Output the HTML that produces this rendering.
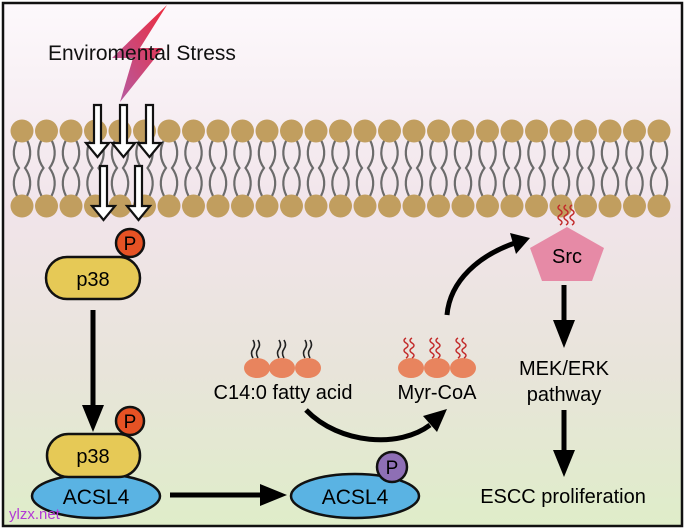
<!DOCTYPE html>
<html><head><meta charset="utf-8"><style>
html,body{margin:0;padding:0;}
body{width:685px;height:530px;overflow:hidden;}
svg{display:block;font-family:"Liberation Sans",Arial,sans-serif;}
</style></head><body>
<svg width="685" height="530" viewBox="0 0 685 530" xmlns="http://www.w3.org/2000/svg" xmlns:xlink="http://www.w3.org/1999/xlink">
<defs>
<linearGradient id="bg" x1="0" y1="0" x2="0" y2="1">
<stop offset="0" stop-color="#fdf9fc"/>
<stop offset="0.4" stop-color="#f1e4ea"/>
<stop offset="0.7" stop-color="#e8e4da"/>
<stop offset="1" stop-color="#dfedc9"/>
</linearGradient>
<linearGradient id="bolt" x1="1" y1="0" x2="0" y2="1">
<stop offset="0" stop-color="#ee2b3c"/>
<stop offset="1" stop-color="#b25ea8"/>
</linearGradient>
<g id="u">
<path d="M-5 140 C-10 150,-9 160,-3 168 C-9 176,-10 186,-5 196" fill="none" stroke="#6b6b6b" stroke-width="2.2"/>
<path d="M5 140 C10 150,9 160,3 168 C9 176,10 186,5 196" fill="none" stroke="#6b6b6b" stroke-width="2.2"/>
<circle cx="0" cy="131" r="11.5" fill="#c19e5f"/>
<circle cx="0" cy="206" r="11.5" fill="#c19e5f"/>
</g>
<path id="zz" d="M0 0 q4 -2.5 0 -5 q-4 -2.5 0 -5 q4 -2.5 0 -5 q-4 -2.5 0 -5" fill="none" stroke="#c22a2a" stroke-width="1.4"/>
</defs>
<rect x="3" y="3" width="679" height="523" fill="url(#bg)" stroke="#111" stroke-width="2.5"/>
<g>
<use xlink:href="#u" x="22"/><use xlink:href="#u" x="46.5"/><use xlink:href="#u" x="71"/><use xlink:href="#u" x="95.5"/>
<use xlink:href="#u" x="120"/><use xlink:href="#u" x="144.5"/><use xlink:href="#u" x="169"/><use xlink:href="#u" x="193.5"/>
<use xlink:href="#u" x="218"/><use xlink:href="#u" x="242.5"/><use xlink:href="#u" x="267"/><use xlink:href="#u" x="291.5"/>
<use xlink:href="#u" x="316"/><use xlink:href="#u" x="340.5"/><use xlink:href="#u" x="365"/><use xlink:href="#u" x="389.5"/>
<use xlink:href="#u" x="414"/><use xlink:href="#u" x="438.5"/><use xlink:href="#u" x="463"/><use xlink:href="#u" x="487.5"/>
<use xlink:href="#u" x="512"/><use xlink:href="#u" x="536.5"/><use xlink:href="#u" x="561"/><use xlink:href="#u" x="585.5"/>
<use xlink:href="#u" x="610"/><use xlink:href="#u" x="634.5"/><use xlink:href="#u" x="659"/>
</g>
<polygon points="167,5 140,48 163,48 120,102 133,58 112,58" fill="url(#bolt)"/>
<text x="48" y="60" font-size="21" fill="#111">Enviromental Stress</text>
<g fill="#fff" stroke="#111" stroke-width="2.2" stroke-linejoin="miter">
<path d="M94 105 h7 v38 h8 l-11.5 14 l-11.5 -14 h8 z"/>
<path d="M120 105 h7 v38 h8 l-11.5 14 l-11.5 -14 h8 z"/>
<path d="M146 105 h7 v38 h8 l-11.5 14 l-11.5 -14 h8 z"/>
<path d="M100 166 h7 v40 h8 l-11.5 14 l-11.5 -14 h8 z"/>
<path d="M135 166 h7 v40 h8 l-11.5 14 l-11.5 -14 h8 z"/>
</g>
<rect x="46" y="257" width="94" height="42" rx="21" fill="#e6c956" stroke="#111" stroke-width="2.5"/>
<text x="93" y="286" font-size="20" text-anchor="middle">p38</text>
<circle cx="130" cy="243" r="14" fill="#e65224" stroke="#111" stroke-width="2.5"/>
<text x="130" y="250" font-size="19" text-anchor="middle">P</text>
<line x1="93" y1="310" x2="93" y2="410" stroke="#000" stroke-width="5"/>
<polygon points="82,405 104,405 93,432" fill="#000"/>
<ellipse cx="96" cy="496" rx="64" ry="22" fill="#5ab3e3" stroke="#111" stroke-width="2.5"/>
<text x="96" y="504" font-size="21" text-anchor="middle">ACSL4</text>
<rect x="47" y="434" width="93" height="43" rx="21.5" fill="#e6c956" stroke="#111" stroke-width="2.5"/>
<text x="93" y="463" font-size="20" text-anchor="middle">p38</text>
<circle cx="130" cy="421" r="14" fill="#e65224" stroke="#111" stroke-width="2.5"/>
<text x="130" y="428" font-size="19" text-anchor="middle">P</text>
<line x1="170" y1="495" x2="265" y2="495" stroke="#000" stroke-width="5"/>
<polygon points="260,484 260,506 287,495" fill="#000"/>
<ellipse cx="355" cy="496" rx="64" ry="22" fill="#5ab3e3" stroke="#111" stroke-width="2.5"/>
<text x="355" y="504" font-size="21" text-anchor="middle">ACSL4</text>
<circle cx="392" cy="467" r="15" fill="#8e6fb5" stroke="#111" stroke-width="2.5"/>
<text x="392" y="474" font-size="19" text-anchor="middle">P</text>
<g fill="#e8845e">
<ellipse cx="257" cy="368" rx="13" ry="10"/><ellipse cx="282" cy="368" rx="13" ry="10"/><ellipse cx="308" cy="368" rx="13" ry="10"/>
<ellipse cx="411" cy="368" rx="13" ry="10"/><ellipse cx="437" cy="368" rx="13" ry="10"/><ellipse cx="463" cy="368" rx="13" ry="10"/>
</g>
<g fill="none" stroke="#222" stroke-width="1.6">
<path d="M253 358 q-3 -5 0 -9 q3 -4 0 -9"/><path d="M258 358 q-3 -5 0 -9 q3 -4 0 -9"/>
<path d="M279 358 q-3 -5 0 -9 q3 -4 0 -9"/><path d="M284 358 q-3 -5 0 -9 q3 -4 0 -9"/>
<path d="M305 358 q-3 -5 0 -9 q3 -4 0 -9"/><path d="M310 358 q-3 -5 0 -9 q3 -4 0 -9"/>
</g>
<use xlink:href="#zz" x="406" y="358"/><use xlink:href="#zz" x="412" y="358"/>
<use xlink:href="#zz" x="432" y="358"/><use xlink:href="#zz" x="438" y="358"/>
<use xlink:href="#zz" x="458" y="358"/><use xlink:href="#zz" x="464" y="358"/>
<use xlink:href="#zz" x="560" y="225"/><use xlink:href="#zz" x="566" y="225"/><use xlink:href="#zz" x="572" y="225"/>
<text x="283" y="399" font-size="20" text-anchor="middle">C14:0 fatty acid</text>
<text x="437" y="399" font-size="20" text-anchor="middle">Myr-CoA</text>
<path d="M306 410 C340 445,400 448,430 425" fill="none" stroke="#000" stroke-width="5"/>
<polygon points="423,416 437,432 447,409" fill="#000"/>
<path d="M447 315 C450 280,480 255,515 243" fill="none" stroke="#000" stroke-width="5"/>
<polygon points="510,233 516,254 530,238" fill="#000"/>
<polygon points="567,227 604,248 592,281 542,281 530,248" fill="#e68aa6"/>
<text x="567" y="263" font-size="20" text-anchor="middle">Src</text>
<line x1="564" y1="285" x2="564" y2="325" stroke="#000" stroke-width="5"/>
<polygon points="553,320 575,320 564,348" fill="#000"/>
<text x="564" y="375" font-size="20" text-anchor="middle">MEK/ERK</text>
<text x="564" y="401" font-size="20" text-anchor="middle">pathway</text>
<line x1="564" y1="410" x2="564" y2="455" stroke="#000" stroke-width="5"/>
<polygon points="553,450 575,450 564,477" fill="#000"/>
<text x="563" y="503" font-size="20" text-anchor="middle">ESCC proliferation</text>
<text x="9" y="519" font-size="15" fill="#b33ad6">ylzx.net</text>
</svg>
</body></html>
